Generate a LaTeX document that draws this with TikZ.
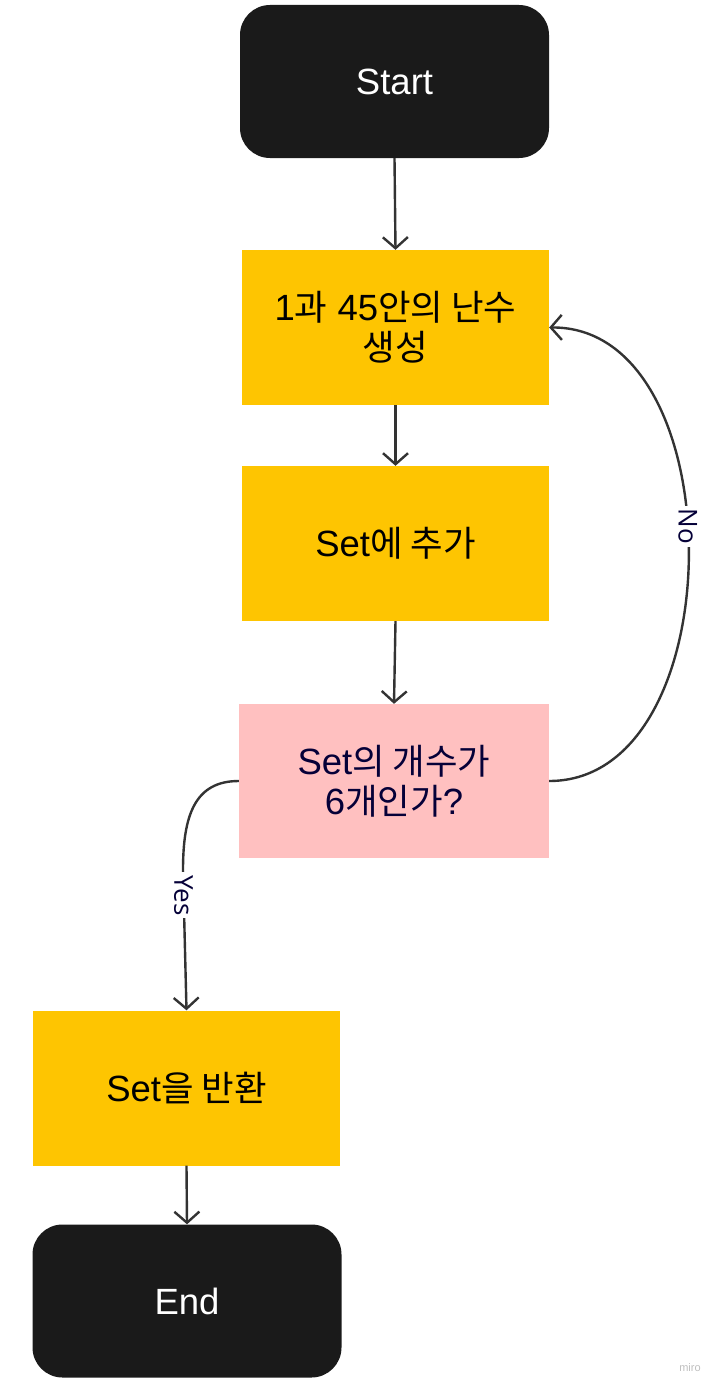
\documentclass[tikz,border=0pt]{standalone}
\usepackage{fontspec}
\setmainfont{Liberation Sans}
\newfontfamily\krfont{Noto Sans CJK KR}[Scale=0.97]
\newfontfamily\lblfont{Open Sans}
\newcommand\K[1]{{\krfont #1}}
\usetikzlibrary{arrows.meta}
\definecolor{mirobk}{HTML}{1A1A1A}
\definecolor{miroyel}{HTML}{FEC501}
\definecolor{miropink}{HTML}{FFC0C0}
\definecolor{mironavy}{HTML}{050038}
\definecolor{conn}{HTML}{333333}
\tikzset{
  term/.style={fill=mirobk, rounded corners=30pt, minimum width=309pt, minimum height=153pt, text=white, font=\fontsize{36.5}{40}\selectfont, align=center, inner sep=0pt},
  proc/.style={fill=miroyel, minimum width=307pt, minimum height=155pt, text=black, font=\fontsize{36.5}{40}\selectfont, align=center, inner sep=0pt},
  decis/.style={fill=miropink, minimum width=310pt, minimum height=154pt, text=mironavy, font=\fontsize{36.5}{40}\selectfont, align=center, inner sep=0pt},
  conn/.style={draw=conn, line width=2.4pt, -{Straight Barb[length=11pt,width=25pt,line width=2.4pt]}},
  lbl/.style={fill=white, text=mironavy, font=\lblfont\fontsize{26}{28}\selectfont, inner sep=3pt, rotate=-90},
}
\begin{document}
\begin{tikzpicture}[x=1pt, y=-1pt]
\useasboundingbox (0,0) rectangle (719,1389);
\node[term] (start) at (394.5,81.5) {Start};
\node[proc] (gen) at (395.5,327.5) {1\K{과} 45\K{안의 난수}\\\K{생성}};
\node[proc] (add) at (395.5,543.5) {Set\K{에 추가}};
\node[decis] (chk) at (394,781) {Set\K{의 개수가}\\6\K{개인가}?};
\node[proc] (ret) at (186.5,1088) {Set\K{을 반환}};
\node[term] (end) at (187,1301) {End};
\node[text=black!25, font=\fontsize{11}{12}\selectfont] (miro) at (690,1368) {miro};

\draw[conn] (start.south) -- (gen.north);
\draw[conn] (gen.south) -- (add.north);
\draw[conn] (add.south) -- (chk.north);
\draw[conn] (ret.south) -- (end.north);
\draw[conn] (chk.east) .. controls (735,781) and (735,326) .. (gen.east)
  node[lbl, pos=0.54] (nolbl) {No};
\coordinate (ybend) at (183,870);
\draw[conn] (chk.west) .. controls (195,781) and (183,815) .. (ybend) -- (ret.north)
  node[lbl, pos=0.18] (yeslbl) {Yes};
\end{tikzpicture}
\end{document}
